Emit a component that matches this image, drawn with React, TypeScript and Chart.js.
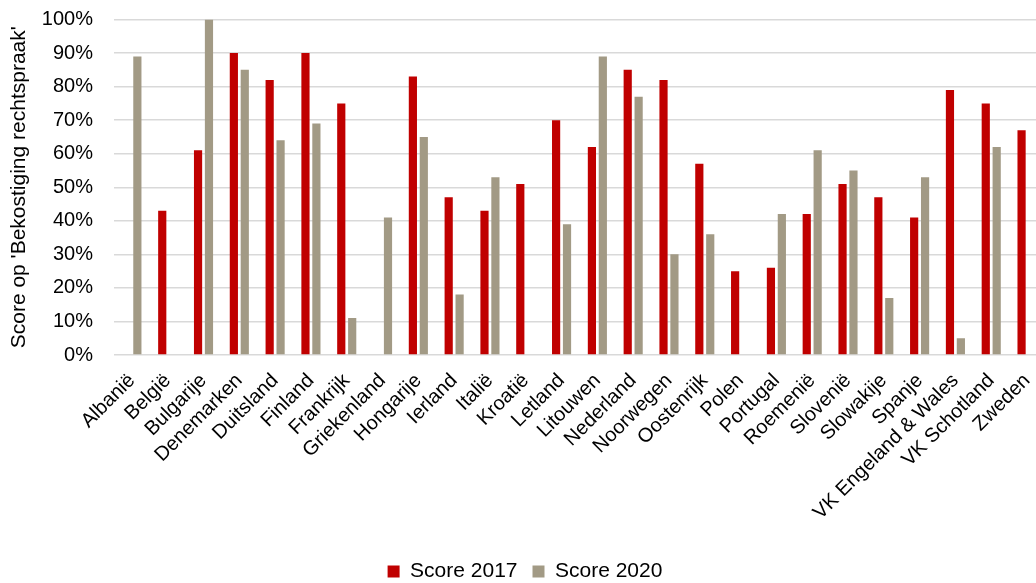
import React, { useEffect, useRef } from "react";
import { Chart, registerables } from "chart.js";

Chart.register(...registerables);

const categories = [
  "Albanië", "België", "Bulgarije", "Denemarken", "Duitsland", "Finland", "Frankrijk",
  "Griekenland", "Hongarije", "Ierland", "Italië", "Kroatië", "Letland", "Litouwen",
  "Nederland", "Noorwegen", "Oostenrijk", "Polen", "Portugal", "Roemenië", "Slovenië",
  "Slowakije", "Spanje", "VK Engeland & Wales", "VK Schotland", "Zweden",
];

const score2017 = [
  null, 43, 61, 90, 82, 90, 75, null, 83, 47, 43, 51, 70, 62, 85, 82, 57, 25, 26, 42, 51, 47, 41, 79, 75, 67,
];

const score2020 = [
  89, null, 100, 85, 64, 69, 11, 41, 65, 18, 53, null, 39, 89, 77, 30, 36, null, 42, 61, 55, 17, 53, 5, 62, null,
];

const yTicks = [0, 10, 20, 30, 40, 50, 60, 70, 80, 90, 100];
const yTitle = "Score op 'Bekostiging rechtspraak'";
const seriesNames = ["Score 2017", "Score 2020"];

const FONT = "'Liberation Sans', Arial, sans-serif";
const CW = 1050;
const CH = 592;

export default function App() {
  const ref = useRef<HTMLCanvasElement | null>(null);
  useEffect(() => {
    if (!ref.current) return;
    const chart = new Chart(ref.current, {
      type: "bar",
      data: {
        labels: categories,
        datasets: [
          {
            label: seriesNames[0],
            data: score2017,
            backgroundColor: "#c00000",
            categoryPercentage: 0.61,
            barPercentage: 0.75,
          },
          {
            label: seriesNames[1],
            data: score2020,
            backgroundColor: "#a29a85",
            categoryPercentage: 0.61,
            barPercentage: 0.75,
          },
        ],
      },
      options: {
        responsive: false,
        animation: false,
        devicePixelRatio: 1,
        layout: { padding: { top: 19.5, left: 0, right: 0, bottom: 0 } },
        plugins: {
          tooltip: { enabled: false },
          legend: {
            position: "bottom",
            labels: {
              boxWidth: 12,
              boxHeight: 12,
              padding: 15,
              color: "#000",
              font: { family: FONT, size: 21 },
            },
          },
        },
        scales: {
          x: {
            grid: { display: false },
            border: { display: false },
            ticks: {
              color: "#000",
              font: { family: FONT, size: 20 },
              minRotation: 45,
              maxRotation: 45,
              autoSkip: false,
              padding: 6,
            },
            afterFit: (s: any) => {
              s.height = 191;
            },
          },
          y: {
            min: 0,
            max: 100,
            afterBuildTicks: (s: any) => {
              s.ticks = yTicks.map((v) => ({ value: v }));
            },
            grid: {
              color: "#d9d9d9",
              lineWidth: 1.5,
              drawTicks: true,
              tickLength: 20,
              tickColor: "rgba(0,0,0,0)",
            },
            border: { display: false },
            ticks: {
              color: "#000",
              font: { family: FONT, size: 20 },
              padding: 1,
              callback: (v: any) => v + "%",
            },
            title: {
              display: true,
              text: yTitle,
              color: "#000",
              font: { family: FONT, size: 21 },
              padding: { top: 7, bottom: 0 },
            },
            afterFit: (s: any) => {
              s.width = 114;
            },
          },
        },
      },
    });
    return () => chart.destroy();
  }, []);
  return (
    <div
      style={{
        position: "fixed",
        left: 0,
        top: 0,
        width: 1036,
        height: 583,
        overflow: "hidden",
        background: "#fff",
      }}
    >
      <canvas ref={ref} width={CW} height={CH} style={{ width: CW, height: CH, display: "block" }} />
    </div>
  );
}
